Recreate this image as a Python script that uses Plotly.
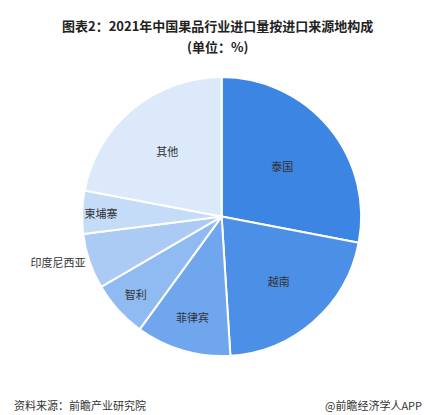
import plotly.graph_objects as go

labels = ["泰国", "越南", "菲律宾", "智利", "印度尼西亚", "柬埔寨", "其他"]
values = [28.0, 21.0, 11.0, 6.6, 6.4, 5.0, 22.0]
colors = ["#3d85e2", "#4b8fe6", "#6fa6ee", "#8fbaf2", "#abcbf5", "#c5dcf8", "#dbe9fb"]
positions = ["inside", "inside", "inside", "inside", "outside", "inside", "inside"]

fig = go.Figure(go.Pie(
    labels=labels, values=values, sort=False, direction="clockwise", rotation=0,
    marker=dict(colors=colors, line=dict(color="white", width=2)),
    textinfo="label", textposition=positions, insidetextorientation="horizontal",
    textfont=dict(size=11, color="#333333", family="Noto Sans CJK SC"),
    showlegend=False, hole=0,
    domain=dict(x=[0.17, 0.81], y=[0.16, 0.835]),
))
fig.update_layout(
    width=436, height=415, margin=dict(l=0, r=0, t=0, b=0),
    paper_bgcolor="white", plot_bgcolor="white",
    font=dict(family="Noto Sans CJK SC"),
    annotations=[
        dict(text="<b>图表2：2021年中国果品行业进口量按进口来源地构成</b>", x=0.48, y=0.985,
             xref="paper", yref="paper", showarrow=False, font=dict(size=13, color="#222")),
        dict(text="<b>(单位：%)</b>", x=0.48, y=0.935, xref="paper", yref="paper",
             showarrow=False, font=dict(size=13, color="#222")),
        dict(text="资料来源：前瞻产业研究院", x=0.01, y=0.02, xref="paper", yref="paper",
             xanchor="left", showarrow=False, font=dict(size=11, color="#333")),
        dict(text="@前瞻经济学人APP", x=0.955, y=0.02, xref="paper", yref="paper",
             xanchor="right", showarrow=False, font=dict(size=11, color="#333")),
    ],
)
fig.write_html("out.html")
